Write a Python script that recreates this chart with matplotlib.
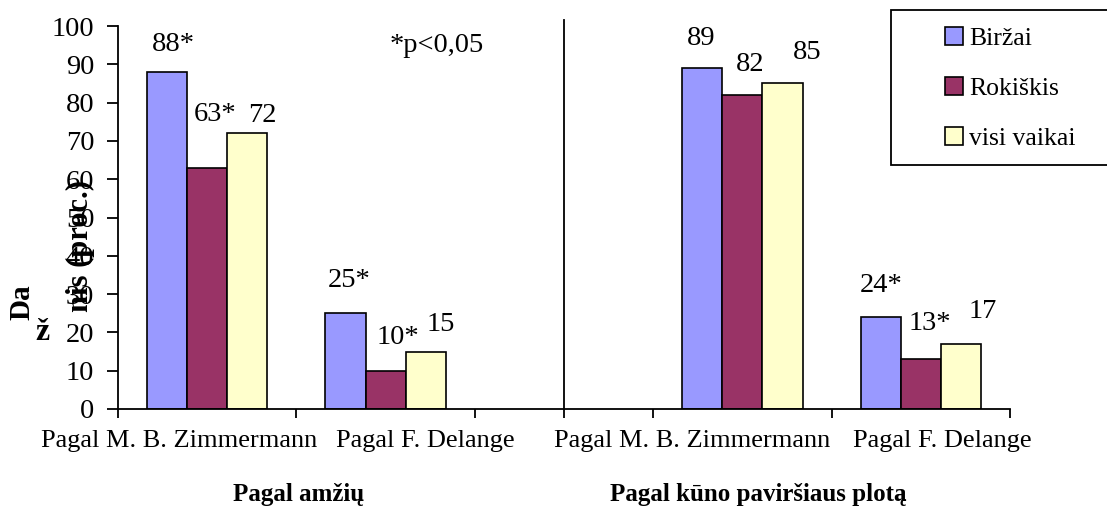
import matplotlib.pyplot as plt
import matplotlib.patches as mpatches
import numpy as np

plt.rcParams['font.family'] = ['Liberation Serif', 'DejaVu Serif']

# data (middle slot is an empty separator group)
categories = ["Pagal M. B. Zimmermann", "Pagal F. Delange", "",
              "Pagal M. B. Zimmermann", "Pagal F. Delange"]
series_names = ["Biržai", "Rokiškis", "visi vaikai"]
birzai = [88, 25, np.nan, 89, 24]
rokiskis = [63, 10, np.nan, 82, 13]
visi = [72, 15, np.nan, 85, 17]
labels_birzai = ["88*", "25*", "", "89", "24*"]
labels_rokiskis = ["63*", "10*", "", "82", "13*"]
labels_visi = ["72", "15", "", "85", "17"]
group_names = ["Pagal amžių", "Pagal kūno paviršiaus plotą"]

colors = ["#9999FF", "#993366", "#FFFFCC"]

# label offsets (pixels) from bar top-centre, as hand placed in the original
off_birzai = [(6, 27), (4, 33), (0, 0), (-1, 30), (0, 32)]
off_rokiskis = [(8, 53), (12, 33), (0, 0), (8, 30), (9, 36)]
off_visi = [(15, 18), (15, 27), (0, 0), (25, 31), (22, 32)]

fig = plt.figure(figsize=(11.07, 5.09), dpi=100)
ax = fig.add_axes([118 / 1107, 1 - 409 / 509, (1010 - 118) / 1107, (409 - 26) / 509])

x = np.arange(len(categories))
w = 0.225
all_vals = [birzai, rokiskis, visi]
all_labels = [labels_birzai, labels_rokiskis, labels_visi]
all_offs = [off_birzai, off_rokiskis, off_visi]
for i in range(3):
    xs = x + (i - 1) * w
    ax.bar(xs, all_vals[i], width=w, color=colors[i], edgecolor="black",
           linewidth=1.2, label=series_names[i])
    for j in range(len(categories)):
        if all_labels[i][j] == "":
            continue
        dx, dy = all_offs[i][j]
        ax.annotate(all_labels[i][j], xy=(xs[j], all_vals[i][j]),
                    xytext=(dx * 0.72, dy * 0.72), textcoords="offset points",
                    ha="center", va="center", fontsize=20.5)

# separator line between the two groups
ax.axvline(2.0, color="black", linewidth=1.3, ymax=1.015, clip_on=False)

ax.set_xlim(-0.5, 4.5)
ax.set_ylim(0, 100)
ax.set_yticks(np.arange(0, 101, 10))
ax.tick_params(axis="y", direction="out", length=8, width=1.3, labelsize=20.5, pad=9)
ax.spines["top"].set_visible(False)
ax.spines["right"].set_visible(False)
ax.spines["left"].set_linewidth(1.3)
ax.spines["bottom"].set_linewidth(1.3)

# tick marks at category boundaries, labels where the original put them
ax.set_xticks([-0.5, 0.5, 1.5, 2.0, 2.5, 3.5, 4.5], minor=True)
ax.set_xticks([-0.157, 1.223, 2.72, 4.12])
ax.set_xticklabels([categories[0], categories[1], categories[3], categories[4]])
ax.tick_params(axis="x", which="major", length=0, labelsize=19, pad=15)
ax.tick_params(axis="x", which="minor", direction="out", length=6.5, width=1.3)

ax.text(1.285, 95, "*p<0,05", ha="center", va="center", fontsize=20.5)

# broken y-axis title as rendered in the original
fig.text(22 / 1107, 1 - 302 / 509, "Da", rotation=90, ha="center", va="center",
         fontsize=21, fontweight="bold")
fig.text(42 / 1107, 1 - 333 / 509, "ž", ha="center", va="center",
         fontsize=23, fontweight="bold")
fig.text(80 / 1107, 1 - 246 / 509, "nis (proc.)", rotation=90, ha="center", va="center",
         fontsize=22, fontweight="bold")

fig.text(299 / 1107, 1 - 494 / 509, group_names[0], ha="center", va="center",
         fontsize=18, fontweight="bold")
fig.text(758 / 1107, 1 - 494 / 509, group_names[1], ha="center", va="center",
         fontsize=18, fontweight="bold")

# legend box runs off the right edge in the original
box = mpatches.Rectangle((891 / 1107, 1 - 165 / 509), 240 / 1107, 155 / 509,
                         transform=fig.transFigure, facecolor="white",
                         edgecolor="black", linewidth=1.3, clip_on=False, zorder=4)
ax.add_patch(box)
leg = ax.legend(loc="upper left", bbox_to_anchor=(945 / 1107, 1 - 27 / 509),
                bbox_transform=fig.transFigure, frameon=False,
                fontsize=18.5, handlelength=0.7, handleheight=0.7,
                handletextpad=0.25, labelspacing=1.05, borderpad=0, borderaxespad=0)
leg.set_zorder(5)

fig.savefig("out.png", dpi=100)
